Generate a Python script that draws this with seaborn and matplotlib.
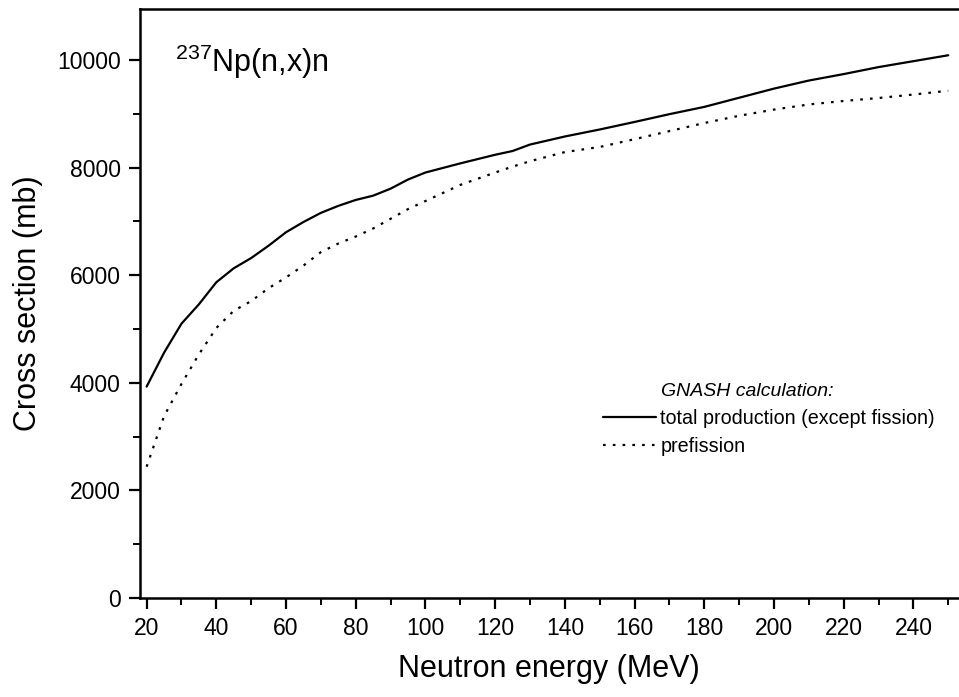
import matplotlib
matplotlib.use("Agg")
import matplotlib.pyplot as plt
import seaborn as sns
import pandas as pd
from matplotlib.lines import Line2D
from matplotlib.ticker import MultipleLocator

energy = [20, 25, 30, 35, 40, 45, 50, 55, 60, 65, 70, 75, 80, 85, 90, 95, 100,
          110, 120, 125, 130, 140, 150, 160, 170, 180, 190, 200, 210, 220, 230, 240, 250]
total = [3930, 4560, 5100, 5460, 5870, 6130, 6320, 6550, 6800, 6990, 7160, 7290, 7400,
         7480, 7610, 7780, 7910, 8080, 8240, 8310, 8430, 8580, 8710, 8850, 8995, 9130,
         9300, 9470, 9620, 9740, 9870, 9980, 10090]
prefission = [2440, 3380, 3980, 4530, 5020, 5340, 5520, 5760, 5960, 6180, 6430, 6590, 6720,
              6870, 7050, 7230, 7380, 7680, 7910, 8020, 8120, 8290, 8385, 8530, 8680, 8830,
              8965, 9080, 9175, 9240, 9295, 9360, 9430]
series_names = ["total production (except fission)", "prefission"]

df = pd.concat([
    pd.DataFrame({"E": energy, "sigma": total, "series": series_names[0]}),
    pd.DataFrame({"E": energy, "sigma": prefission, "series": series_names[1]}),
])

sns.set_theme(style="ticks")
plt.rcParams["font.family"] = ["Liberation Sans", "DejaVu Sans"]
plt.rcParams["mathtext.fontset"] = "custom"
plt.rcParams["mathtext.rm"] = "Liberation Sans"
for k in ["text.color", "axes.labelcolor", "xtick.color", "ytick.color", "axes.edgecolor"]:
    plt.rcParams[k] = "black"

W, H = 959, 697
fig = plt.figure(figsize=(W / 100, H / 100), dpi=100)
ax = fig.add_axes([140 / W, 1 - 598 / H, (958 - 140) / W, (598 - 9) / H])

dashes = {series_names[0]: "", series_names[1]: (1.2, 3.2)}
sns.lineplot(data=df, x="E", y="sigma", style="series", dashes=dashes,
             color="black", linewidth=1.6, ax=ax, legend=False)

ax.set_xlim(18.1, 252.8)
ax.set_ylim(0, 10950)
ax.xaxis.set_major_locator(MultipleLocator(20))
ax.xaxis.set_minor_locator(MultipleLocator(10))
ax.yaxis.set_major_locator(MultipleLocator(2000))
ax.yaxis.set_minor_locator(MultipleLocator(1000))
ax.set_xticks(range(20, 260, 20))
ax.tick_params(axis="both", which="major", length=8, width=1.6, labelsize=16.5,
               color="black", labelcolor="black", pad=6)
ax.tick_params(axis="both", which="minor", length=5, width=1.4, color="black")
for s in ["left", "bottom", "top"]:
    ax.spines[s].set_linewidth(1.8)
    ax.spines[s].set_color("black")
ax.spines["right"].set_visible(False)

ax.set_xlabel("Neutron energy (MeV)", fontsize=22, labelpad=10, color="black")
ax.set_ylabel("Cross section (mb)", fontsize=22, labelpad=10, color="black")

fig.text(175 / W, 1 - 72 / H, r"$^{\mathregular{237}}$Np(n,x)n", fontsize=22,
         va="baseline", ha="left", color="black")

fig.text(661 / W, 1 - 391 / H, "GNASH calculation:", fontsize=14, style="italic",
         va="center", ha="left", color="black")
handles = [Line2D([], [], color="black", linewidth=1.6),
           Line2D([], [], color="black", linewidth=1.6, dashes=(1.2, 3.2))]
leg = ax.legend(handles, series_names, loc="upper left",
                bbox_to_anchor=(603 / W, 1 - 409 / H), bbox_transform=fig.transFigure,
                frameon=False, fontsize=14.2, handlelength=2.7, handletextpad=0.2,
                borderpad=0, borderaxespad=0, labelspacing=0.45)
for t in leg.get_texts():
    t.set_color("black")

fig.savefig("out.png", dpi=100)
